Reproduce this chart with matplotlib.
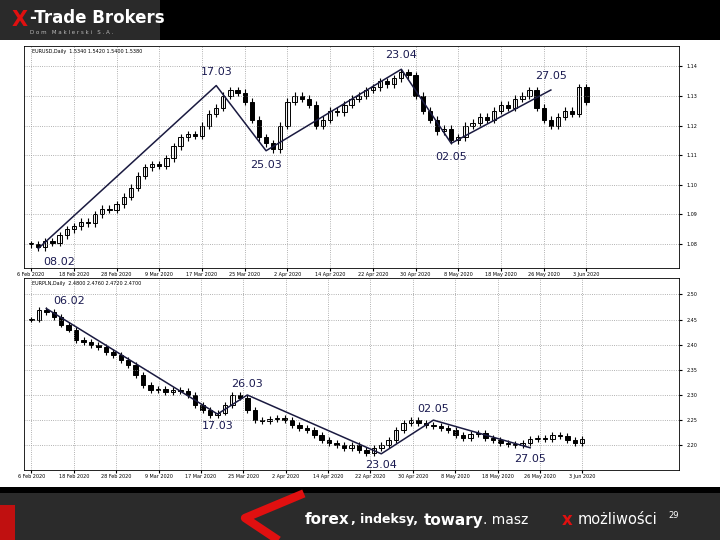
import matplotlib.pyplot as plt
import matplotlib.patches as mpatches
import numpy as np

# EURUSD daily closes (top panel) and a falling instrument (bottom panel)
top_close = [1.0800, 1.0790, 1.0810, 1.0805, 1.0830, 1.0850, 1.0860, 1.0875, 1.0870, 1.0900,
             1.0920, 1.0915, 1.0935, 1.0960, 1.0990, 1.1030, 1.1060, 1.1070, 1.1065, 1.1090,
             1.1130, 1.1160, 1.1170, 1.1165, 1.1200, 1.1240, 1.1260, 1.1300, 1.1320, 1.1310,
             1.1280, 1.1220, 1.1160, 1.1140, 1.1120, 1.1200, 1.1280, 1.1300, 1.1290, 1.1270,
             1.1200, 1.1220, 1.1250, 1.1245, 1.1270, 1.1290, 1.1300, 1.1320, 1.1330, 1.1350,
             1.1340, 1.1360, 1.1380, 1.1370, 1.1300, 1.1250, 1.1220, 1.1180, 1.1190, 1.1150,
             1.1160, 1.1200, 1.1210, 1.1230, 1.1220, 1.1250, 1.1270, 1.1260, 1.1290, 1.1300,
             1.1320, 1.1260, 1.1220, 1.1200, 1.1230, 1.1250, 1.1240, 1.1330, 1.1280]
top_pivot_idx = [1, 26, 33, 52, 59, 73]
top_pivot_val = [1.0785, 1.1335, 1.1115, 1.1390, 1.1140, 1.1320]
top_pivot_lbl = ["08.02", "17.03", "25.03", "23.04", "02.05", "27.05"]

bot_close = [2.450, 2.470, 2.465, 2.455, 2.440, 2.430, 2.410, 2.405, 2.400, 2.395,
             2.385, 2.380, 2.370, 2.360, 2.340, 2.320, 2.310, 2.312, 2.305, 2.310,
             2.308, 2.300, 2.280, 2.270, 2.260, 2.265, 2.280, 2.300, 2.295, 2.270,
             2.250, 2.248, 2.252, 2.255, 2.250, 2.240, 2.235, 2.230, 2.220, 2.210,
             2.205, 2.200, 2.195, 2.200, 2.190, 2.185, 2.195, 2.200, 2.210, 2.230,
             2.245, 2.250, 2.245, 2.240, 2.238, 2.235, 2.230, 2.220, 2.215, 2.222,
             2.225, 2.215, 2.210, 2.205, 2.202, 2.200, 2.205, 2.212, 2.215, 2.213,
             2.220, 2.218, 2.210, 2.205, 2.212]
bot_pivot_idx = [2, 25, 29, 47, 54, 67]
bot_pivot_val = [2.472, 2.262, 2.300, 2.183, 2.250, 2.195]
bot_pivot_lbl = ["06.02", "17.03", "26.03", "23.04", "02.05", "27.05"]

date_lbls = ["6 Feb 2020", "18 Feb 2020", "28 Feb 2020", "9 Mar 2020", "17 Mar 2020",
             "25 Mar 2020", "2 Apr 2020", "14 Apr 2020", "22 Apr 2020", "30 Apr 2020",
             "8 May 2020", "18 May 2020", "26 May 2020", "3 Jun 2020"]


def candles(ax, closes):
    closes = np.array(closes)
    opens = np.r_[closes[0], closes[:-1]]
    span = closes.max() - closes.min()
    for i, (o, c) in enumerate(zip(opens, closes)):
        hi = max(o, c) + span * 0.02
        lo = min(o, c) - span * 0.02
        ax.vlines(i, lo, hi, color='black', lw=0.8)
        h = max(abs(c - o), span * 0.004)
        ax.add_patch(mpatches.Rectangle((i - 0.3, min(o, c)), 0.6, h,
                                        facecolor='white' if c >= o else 'black',
                                        edgecolor='black', lw=0.7))


def panel(rect, closes, pidx, pval, plbl, title, top_pad):
    ax = fig.add_axes(rect)
    candles(ax, closes)
    ax.plot(pidx, pval, color='#1a1a40', lw=1.1)
    span = max(closes) - min(closes)
    for k, (i, v, l) in enumerate(zip(pidx, pval, plbl)):
        is_high = (k > 0 and v > pval[k - 1]) or (k == 0 and v > pval[1])
        off = span * 0.08 if is_high else -span * 0.08
        dx = 3 if k == 0 else 0
        if k == 0 and is_high:
            off = span * 0.05
        ax.text(i + dx, v + off, l, ha='center', va='center', fontsize=8,
                color='#1a1a50')
    ax.set_xlim(-1, len(closes) + 12)
    ax.set_ylim(min(closes) - span * 0.12, max(closes) + span * top_pad)
    ax.set_xticks(np.linspace(0, len(closes) - 1, len(date_lbls)))
    ax.set_xticklabels(date_lbls, fontsize=3.5)
    ax.yaxis.tick_right()
    ax.tick_params(axis='y', labelsize=3.5, length=2)
    ax.tick_params(axis='x', length=2, pad=1)
    ax.grid(True, ls=':', color='#999999', lw=0.6)
    ax.text(0.012, 0.985, title, transform=ax.transAxes, fontsize=3.5, va='top')
    for s in ax.spines.values():
        s.set_linewidth(0.6)
    return ax


fig = plt.figure(figsize=(7.2, 5.4), dpi=100)
fig.patch.set_facecolor('white')

# header band
fig.patches.append(mpatches.Rectangle((0, 500 / 540), 1, 40 / 540, transform=fig.transFigure,
                                      facecolor='black', zorder=0))
fig.patches.append(mpatches.Rectangle((0, 500 / 540), 160 / 720, 40 / 540, transform=fig.transFigure,
                                      facecolor='#2a2a2a', zorder=0))
fig.text(12 / 720, 520 / 540, "X", color='#e01010', fontsize=15, fontweight='bold', va='center')
fig.text(30 / 720, 522 / 540, "-Trade Brokers", color='white', fontsize=12, fontweight='bold', va='center')
fig.text(30 / 720, 507 / 540, "D o m   M a k l e r s k i   S . A .", color='#bbbbbb', fontsize=4, va='center')

# footer band
fig.patches.append(mpatches.Rectangle((0, 0), 1, 47 / 540, transform=fig.transFigure,
                                      facecolor='#2b2b2b', zorder=0))
fig.patches.append(mpatches.Rectangle((0, 47 / 540), 1, 6 / 540, transform=fig.transFigure,
                                      facecolor='black', zorder=0))
fig.add_artist(plt.Line2D([300 / 720, 245 / 720, 275 / 720], [45 / 540, 22 / 540, 2 / 540],
                          transform=fig.transFigure, color='#e01010', lw=6))
fig.patches.append(mpatches.Rectangle((0, 0), 15 / 720, 35 / 540, transform=fig.transFigure,
                                      facecolor='#c01010', zorder=1))
fig.text(305 / 720, 20 / 540, "forex", color='white', fontsize=11, fontweight='bold', va='center')
fig.text(351 / 720, 20 / 540, ", indeksy,", color='white', fontsize=9, fontweight='bold', va='center')
fig.text(424 / 720, 20 / 540, "towary", color='white', fontsize=11, fontweight='bold', va='center')
fig.text(483 / 720, 20 / 540, ". masz", color='white', fontsize=10, va='center')
fig.text(562 / 720, 20 / 540, "x", color='#e01010', fontsize=12, fontweight='bold', va='center')
fig.text(578 / 720, 20 / 540, "możliwości", color='white', fontsize=10.5, va='center')
fig.text(668 / 720, 24 / 540, "29", color='white', fontsize=6, va='center')

panel([24 / 720, 272 / 540, 655 / 720, 222 / 540], top_close, top_pivot_idx, top_pivot_val,
      top_pivot_lbl, "EURUSD,Daily  1.5340 1.5420 1.5400 1.5380", 0.15)
panel([24 / 720, 70 / 540, 655 / 720, 192 / 540], bot_close, bot_pivot_idx, bot_pivot_val,
      bot_pivot_lbl, "EURPLN,Daily  2.4800 2.4760 2.4720 2.4700", 0.22)

fig.savefig("out.png", dpi=100)
